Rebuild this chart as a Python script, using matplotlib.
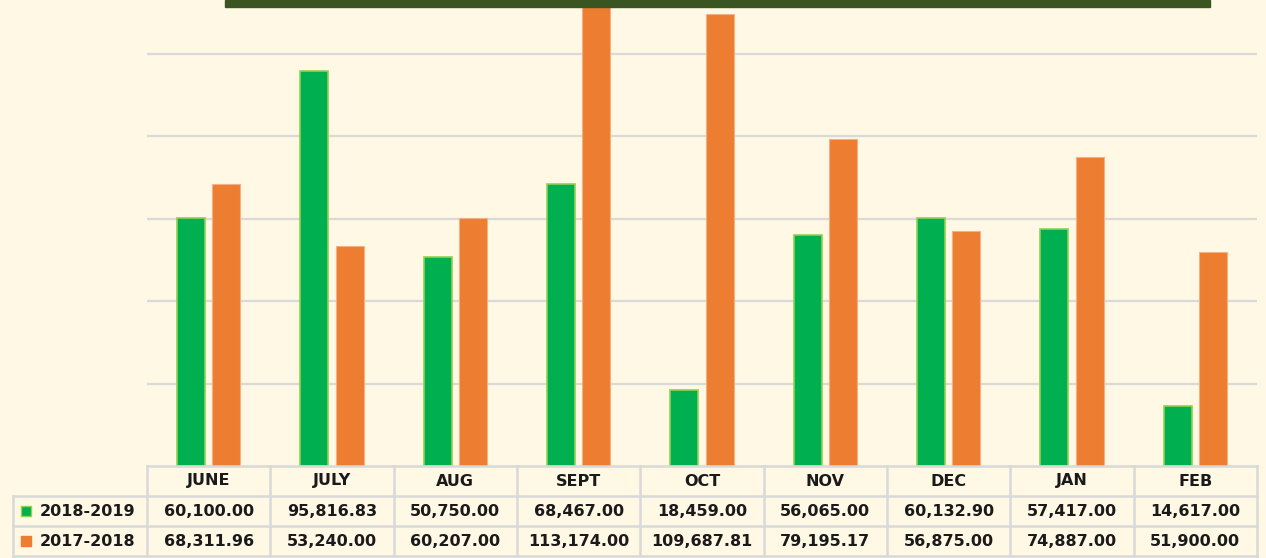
import numpy as np
import matplotlib.pyplot as plt
from matplotlib.patches import Rectangle

# Datos
meses = ['JUNE', 'JULY', 'AUG', 'SEPT', 'OCT', 'NOV', 'DEC', 'JAN', 'FEB']
serie_2018_2019 = [60100.00, 95816.83, 50750.00, 68467.00, 18459.00,
                   56065.00, 60132.90, 57417.00, 14617.00]
serie_2017_2018 = [68311.96, 53240.00, 60207.00, 113174.00, 109687.81,
                   79195.17, 56875.00, 74887.00, 51900.00]
etiquetas_series = ['2018-2019', '2017-2018']

# Colores
fondo = '#FFF8E5'
verde = '#00B050'
naranja = '#ED7D31'
gris = '#D9D9D9'
texto = '#1A1A1A'

W, H = 1266, 558
fig = plt.figure(figsize=(W / 100, H / 100), dpi=100)
fig.patch.set_facecolor(fondo)


def px(x0, y0, x1, y1):
    # caja en pixeles -> fracciones de la figura
    return [x0 / W, 1 - y1 / H, (x1 - x0) / W, (y1 - y0) / H]


# Barra de titulo
fig.patches.append(Rectangle((225 / W, 1 - 7 / H), (1210 - 225) / W, 7 / H,
                             transform=fig.transFigure, color='#3B5522',
                             zorder=5))

# Grafico de barras
ax = fig.add_axes(px(147, 0, 1257, 466))
ax.set_facecolor(fondo)
x = np.arange(len(meses))
ancho = 0.227
ax.bar(x - 0.142, serie_2018_2019, ancho, color=verde, edgecolor='#92D050',
       linewidth=1.2, zorder=3)
ax.bar(x + 0.142, serie_2017_2018, ancho, color=naranja, edgecolor='#F4B183',
       linewidth=0.8, zorder=3)
ax.set_xlim(-0.5, len(meses) - 0.5)
ax.set_ylim(0, 466 / 4.125 * 1000)
ax.set_yticks([20000, 40000, 60000, 80000, 100000])
ax.yaxis.grid(True, color=gris, linewidth=1.6, zorder=0)
ax.tick_params(left=False, bottom=False, labelleft=False, labelbottom=False)
for s in ax.spines.values():
    s.set_visible(False)

# Tabla de datos
izq = -0.5 - (147 - 13) / (1110 / len(meses))
at = fig.add_axes(px(13, 466, 1257, 556))
at.set_xlim(izq, len(meses) - 0.5)
at.set_ylim(3, 0)
at.axis('off')
lw = 1.8
at.plot([-0.5, len(meses) - 0.5], [0, 0], color=gris, lw=lw, clip_on=False)
for yy in [1, 2, 3]:
    at.plot([izq, len(meses) - 0.5], [yy, yy], color=gris, lw=lw, clip_on=False)
for xx in np.arange(-0.5, len(meses), 1.0):
    at.plot([xx, xx], [0, 3], color=gris, lw=lw, clip_on=False)
at.plot([izq, izq], [1, 3], color=gris, lw=lw, clip_on=False)

fs = 11.5
for i, m in enumerate(meses):
    at.text(i, 0.5, m, ha='center', va='center', fontsize=fs,
            fontweight='bold', color=texto)
    at.text(i, 1.52, f"{serie_2018_2019[i]:,.2f}", ha='center', va='center',
            fontsize=fs, fontweight='bold', color=texto)
    at.text(i, 2.52, f"{serie_2017_2018[i]:,.2f}", ha='center', va='center',
            fontsize=fs, fontweight='bold', color=texto)

unidad = 1110 / len(meses)
for fila, (etq, col, borde) in enumerate(zip(etiquetas_series,
                                             [verde, naranja],
                                             ['#92D050', naranja])):
    at.plot(izq + 12.5 / unidad, 1.5 + fila, marker='s', markersize=7.5,
            color=col, markeredgecolor=borde, markeredgewidth=1,
            clip_on=False)
    at.text(izq + 27 / unidad, 1.52 + fila, etq, ha='left', va='center',
            fontsize=fs, fontweight='bold', color=texto)

plt.savefig('out.png', dpi=100, facecolor=fondo)
